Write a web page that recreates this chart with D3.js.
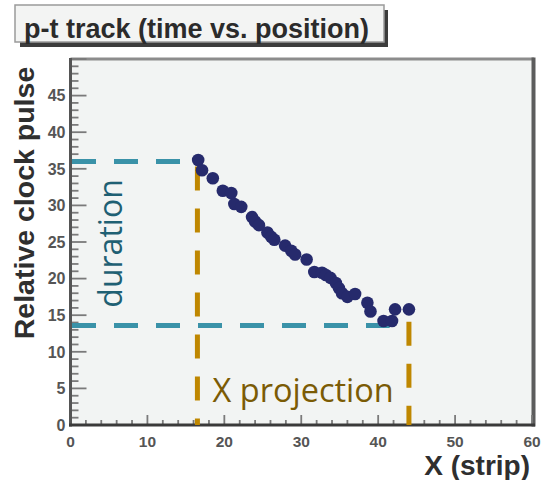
<!DOCTYPE html>
<html>
<head>
<meta charset="utf-8">
<script src="https://cdn.jsdelivr.net/npm/d3@7"></script>
<style>
  html, body { margin: 0; padding: 0; background: #ffffff; }
  svg { display: block; }
</style>
</head>
<body>
<div id="chart"></div>
<script>
// Hit positions of the track: strip number and relative clock pulse
const strips = [16.6, 17.1, 18.5, 19.8, 20.9, 21.3, 22.2, 23.6, 24.0, 24.5, 25.6, 26.1, 26.5, 27.9, 28.7, 29.2, 30.7, 31.7, 32.7, 33.2, 33.8, 34.5, 34.9, 35.3, 36.0, 37.0, 38.6, 39.0, 40.7, 41.8, 42.2, 44.0];
const pulses = [36.2, 34.8, 33.7, 32.0, 31.7, 30.2, 29.8, 28.4, 27.8, 27.3, 26.3, 25.7, 25.3, 24.5, 23.8, 23.3, 22.6, 20.9, 20.8, 20.5, 20.1, 19.4, 18.7, 18.0, 17.5, 17.9, 16.7, 15.5, 14.2, 14.2, 15.8, 15.8];

// Axis ranges and tick labels
const xDomain = [0, 60];
const yDomain = [0, 50];
const xTickLabels = [0, 10, 20, 30, 40, 50, 60];
const yTickLabels = [0, 5, 10, 15, 20, 25, 30, 35, 40, 45];

// Track extent annotations
const durationStart = 36.0;   // clock pulse at first hit
const durationEnd = 13.6;     // clock pulse at last hit
const projStart = 16.5;       // strip of first hit
const projEnd = 44.0;         // strip of last hit
const durationLineEnd = 41.5; // how far the lower guide runs

const W = 541, H = 480;
const fLeft = 70.5, fRight = 532, fTop = 59, fBottom = 425;

const svg = d3.select("#chart").append("svg")
  .attr("width", W).attr("height", H);

const x = d3.scaleLinear().domain(xDomain).range([fLeft, fRight]);
const y = d3.scaleLinear().domain(yDomain).range([fBottom, fTop]);

// Title box with drop shadow
svg.append("rect").attr("x", 20).attr("y", 10).attr("width", 368).attr("height", 37)
  .attr("fill", "#3c3c3c");
svg.append("rect").attr("x", 15).attr("y", 5).attr("width", 369).attr("height", 37)
  .attr("fill", "#f3f4f3").attr("stroke", "#9a9a9a").attr("stroke-width", 1.5);
svg.append("text").attr("x", 24).attr("y", 37.5)
  .attr("font-family", "Liberation Sans, Arial, sans-serif")
  .attr("font-weight", "bold").attr("font-size", 27).attr("fill", "#2b2b2b")
  .text("p-t track (time vs. position)");

// Frame
svg.append("rect").attr("x", fLeft).attr("y", fTop)
  .attr("width", fRight - fLeft).attr("height", fBottom - fTop)
  .attr("fill", "#f2f4f3");
svg.append("line").attr("x1", fLeft).attr("x2", fRight + 2).attr("y1", fTop).attr("y2", fTop)
  .attr("stroke", "#8c8c8c").attr("stroke-width", 3);
svg.append("line").attr("x1", fRight + 1.5).attr("x2", fRight + 1.5).attr("y1", fTop - 1.5).attr("y2", fBottom + 1.5)
  .attr("stroke", "#5c5c5c").attr("stroke-width", 4);

// Axes (ticks pointing into the frame)
const font = "Liberation Sans, Arial, sans-serif";

const xMinor = d3.range(0, 61, 2);
const yMinor = d3.range(0, 51, 1);

const gx = svg.append("g");
gx.selectAll("line").data(xMinor).join("line")
  .attr("x1", d => x(d)).attr("x2", d => x(d))
  .attr("y1", fBottom).attr("y2", d => fBottom - (d % 10 === 0 ? 10 : 5))
  .attr("stroke", "#7a7a7a").attr("stroke-width", 1.8);
gx.selectAll("text").data(xTickLabels).join("text")
  .attr("x", d => x(d)).attr("y", 446.5)
  .attr("text-anchor", "middle")
  .attr("font-family", font).attr("font-weight", "bold").attr("font-size", 15.5)
  .attr("fill", "#555").text(d => d);

const gy = svg.append("g");
gy.selectAll("line").data(yMinor).join("line")
  .attr("x1", fLeft).attr("x2", d => fLeft + (d % 5 === 0 ? 16 : 8))
  .attr("y1", d => y(d)).attr("y2", d => y(d))
  .attr("stroke", "#7a7a7a").attr("stroke-width", 1.8);
gy.selectAll("text").data(yTickLabels).join("text")
  .attr("x", 65.5).attr("y", d => y(d))
  .attr("text-anchor", "end").attr("dy", "0.36em")
  .attr("font-family", font).attr("font-weight", "bold").attr("font-size", 16)
  .attr("fill", "#555").text(d => d);

svg.append("line").attr("x1", fLeft).attr("x2", fLeft).attr("y1", fTop - 1).attr("y2", fBottom + 1.5)
  .attr("stroke", "#555").attr("stroke-width", 3);
svg.append("line").attr("x1", fLeft - 1.5).attr("x2", fRight + 3).attr("y1", fBottom).attr("y2", fBottom)
  .attr("stroke", "#3a3a3a").attr("stroke-width", 3);

// Axis titles
svg.append("text")
  .attr("transform", "translate(34,203) rotate(-90)")
  .attr("text-anchor", "middle")
  .attr("font-family", font).attr("font-weight", "bold").attr("font-size", 28.5)
  .attr("fill", "#2f2f2f").text("Relative clock pulse");
svg.append("text").attr("x", 530).attr("y", 474.5)
  .attr("text-anchor", "end")
  .attr("font-family", font).attr("font-weight", "bold").attr("font-size", 28)
  .attr("fill", "#2f2f2f").text("X (strip)");

// Duration guides (horizontal, teal)
const teal = "#3a92a8";
const guides = svg.append("g").attr("fill", "none").attr("stroke-width", 5)
  .attr("stroke-dasharray", "24,18");
guides.append("line").attr("x1", x(0) + 1.5).attr("x2", x(projStart))
  .attr("y1", y(durationStart)).attr("y2", y(durationStart)).attr("stroke", teal);
guides.append("line").attr("x1", x(0) + 1.5).attr("x2", x(durationLineEnd))
  .attr("y1", y(durationEnd)).attr("y2", y(durationEnd)).attr("stroke", teal);

// Projection guides (vertical, gold)
const gold = "#bf8700";
guides.append("line").attr("x1", x(projStart)).attr("x2", x(projStart))
  .attr("y1", y(35.3)).attr("y2", y(0)).attr("stroke", gold);
guides.append("line").attr("x1", x(projEnd)).attr("x2", x(projEnd))
  .attr("y1", y(14.1)).attr("y2", y(0)).attr("stroke", gold);

// Hits
const hits = strips.map((s, i) => ({ s, p: pulses[i] }));
svg.append("g").selectAll("circle").data(hits).join("circle")
  .attr("cx", d => x(d.s)).attr("cy", d => y(d.p)).attr("r", 6.3)
  .attr("fill", "#262a6c");

// Annotation labels
svg.append("text")
  .attr("transform", `translate(121.5,${y((durationStart + durationEnd) / 2)}) rotate(-90)`)
  .attr("text-anchor", "middle")
  .attr("font-family", "Open Sans, sans-serif").attr("font-size", 32)
  .attr("fill", "#1f6073").text("duration");
svg.append("text")
  .attr("x", x((projStart + projEnd) / 2)).attr("y", 401.5)
  .attr("text-anchor", "middle")
  .attr("font-family", "Open Sans, sans-serif").attr("font-size", 32.5)
  .attr("fill", "#7b5b05").text("X projection");
</script>
</body>
</html>
